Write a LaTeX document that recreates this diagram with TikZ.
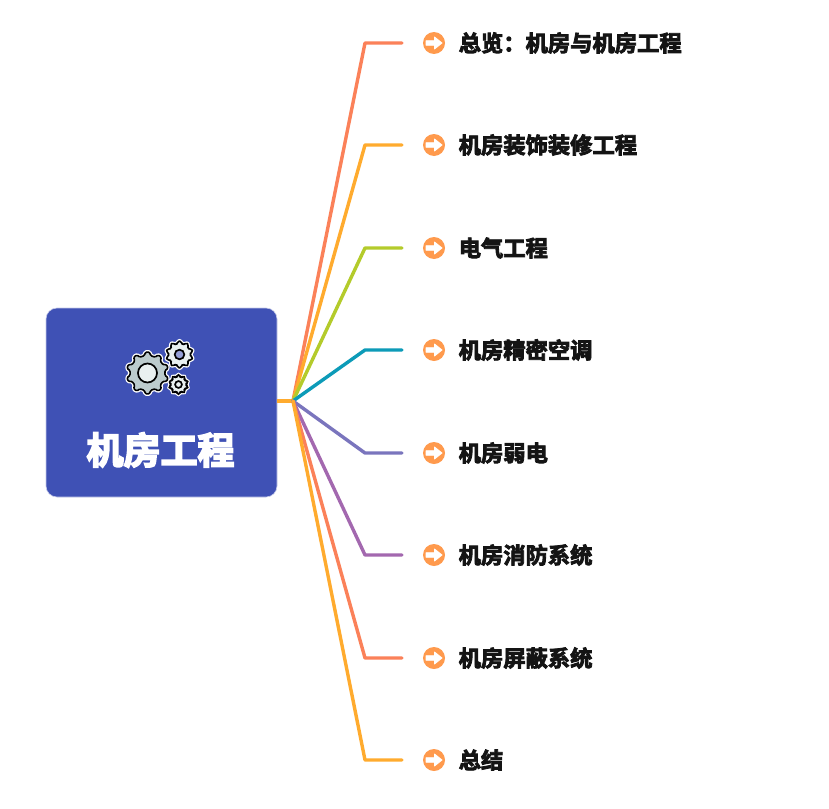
\documentclass[tikz,border=0pt]{standalone}
\usepackage{fontspec}
\newfontfamily\cjkitem[FakeBold=3.6]{Noto Sans CJK SC Bold}
\newfontfamily\cjktitle[FakeBold=4.6]{Noto Sans CJK SC Bold}
\definecolor{rootblue}{HTML}{3F51B5}
\definecolor{rootedge}{HTML}{C5CAE9}
\definecolor{iconorange}{HTML}{FF9A4D}
\definecolor{cA}{HTML}{FB8159}
\definecolor{cB}{HTML}{FFAB2E}
\definecolor{cC}{HTML}{B4CB2B}
\definecolor{cD}{HTML}{0C9BB8}
\definecolor{cE}{HTML}{7A75BD}
\definecolor{cF}{HTML}{A368AF}
\definecolor{gearbig}{HTML}{BCCBCD}
\definecolor{gearsmall}{HTML}{E9F0F0}
\tikzset{
  rootbox/.style={draw=rootedge,line width=0.6pt,fill=rootblue,rounded corners=11pt,minimum width=231pt,minimum height=189pt,inner sep=0pt},
  titletext/.style={text=white,font=\cjktitle\fontsize{37}{37}\selectfont,inner sep=0pt},
  itemtext/.style={text=black!92,font=\cjkitem\fontsize{22.3}{23}\selectfont,inner sep=0pt,anchor=west},
  bullet/.style={circle,fill=iconorange,minimum size=22pt,inner sep=0pt},
  branch/.style={line width=3.4pt,line join=round,line cap=round},
}
% centre x, centre y, outer radius, inner radius, hole radius, teeth, fill, hole fill
\newcommand\gearicon[8]{%
  \pgfmathsetmacro\gstep{360/#6}%
  \def\gearoutline{%
    (#1+#4,#2) \foreach \k in {1,...,#6}{
      -- ({#1+#4*cos((\k-1)*\gstep+0.22*\gstep)},{#2+#4*sin((\k-1)*\gstep+0.22*\gstep)})
      -- ({#1+#3*cos((\k-1)*\gstep+0.34*\gstep)},{#2+#3*sin((\k-1)*\gstep+0.34*\gstep)})
      -- ({#1+#3*cos((\k-1)*\gstep+0.66*\gstep)},{#2+#3*sin((\k-1)*\gstep+0.66*\gstep)})
      -- ({#1+#4*cos((\k-1)*\gstep+0.78*\gstep)},{#2+#4*sin((\k-1)*\gstep+0.78*\gstep)})
      -- ({#1+#4*cos(\k*\gstep)},{#2+#4*sin(\k*\gstep)})
    } -- cycle}%
  \draw[white,line width=4.2pt,line join=round,fill=white,rounded corners=1.2pt] \gearoutline;
  \draw[black,line width=1.6pt,line join=round,fill=#7,rounded corners=1.2pt] \gearoutline;
  \draw[black,line width=1.7pt,fill=#8] (#1,#2) circle (#5);
}
\begin{document}
\begin{tikzpicture}[x=1pt,y=-1pt]
  \useasboundingbox[fill=white] (0,0) rectangle (829,808);
  \node[rootbox] (root) at (161.5,402.5) {};
  \coordinate (hub) at (293,401);
  \node[titletext] (title) at (160.5,450) {机房工程};
  \gearicon{179.5}{354.5}{13.5}{11}{4.8}{10}{gearsmall}{rootblue!55!white}
  \gearicon{178.5}{384.5}{9.8}{7.8}{3.4}{10}{gearsmall}{gearsmall}
  \gearicon{147.5}{373}{21}{17.5}{9.5}{10}{gearbig}{gearsmall}
  \draw[line width=3.4pt,cB] (root.east |- hub) -- (hub);
  \foreach \i/\yy/\col/\txt in {
    1/43/cA/{总览：机房与机房工程},
    2/145/cB/{机房装饰装修工程},
    3/248/cC/{电气工程},
    4/350/cD/{机房精密空调},
    5/453/cE/{机房弱电},
    6/555/cF/{机房消防系统},
    7/658/cA/{机房屏蔽系统},
    8/760/cB/{总结}}{
    \coordinate (elbow\i) at (365,\yy);
    \coordinate (end\i) at (402,\yy);
    \draw[branch,\col] (hub) -- (elbow\i) -- (end\i);
    \node[bullet] (icon\i) at (434,\yy) {};
    \fill[white,line join=round,draw=white,line width=0.8pt]
      ([xshift=-8pt,yshift=-2.3pt]icon\i.center) -- ([xshift=0.5pt,yshift=-2.3pt]icon\i.center)
      -- ([xshift=0.5pt,yshift=-6pt]icon\i.center) -- ([xshift=8pt]icon\i.center)
      -- ([xshift=0.5pt,yshift=6pt]icon\i.center) -- ([xshift=0.5pt,yshift=2.3pt]icon\i.center)
      -- ([xshift=-8pt,yshift=2.3pt]icon\i.center) -- cycle;
    \node[itemtext] (label\i) at (458.5,\yy) {\txt};
  }
\end{tikzpicture}
\end{document}
